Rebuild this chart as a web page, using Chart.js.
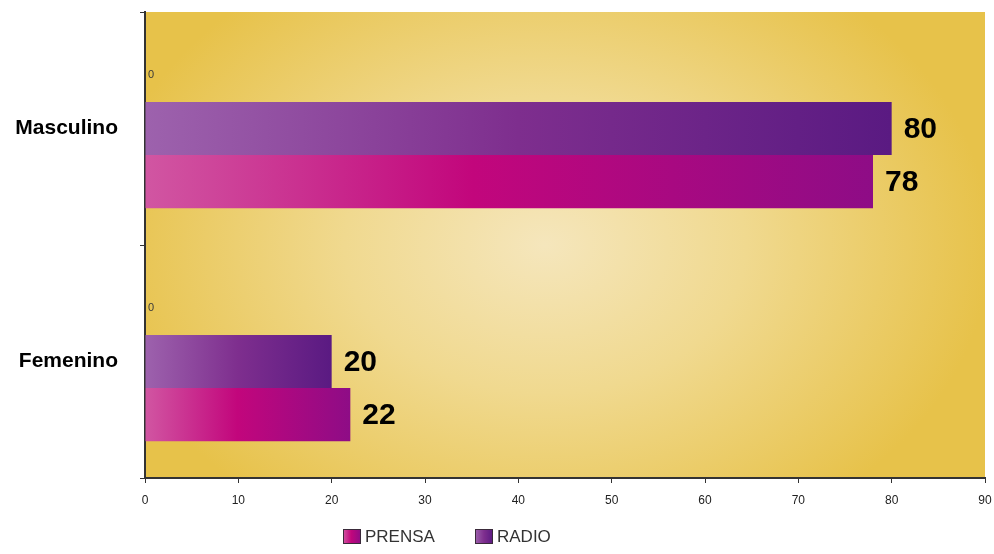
<!DOCTYPE html>
<html lang="es">
<head>
<meta charset="UTF-8">
<title>Prensa y radio por sexo</title>
<script src="https://cdn.jsdelivr.net/npm/chart.js"></script>
<style>
  body { margin: 0; background: #fff; }
  #wrap { width: 994px; height: 554px; }
</style>
</head>
<body>
<div id="wrap"><canvas id="chart"></canvas></div>
<script>
// data
const categorias = ['Masculino', 'Femenino'];
const vacio = [0, 0];
const radio = [80, 20];
const prensa = [78, 22];
const xTicks = [0, 10, 20, 30, 40, 50, 60, 70, 80, 90];

const FONT = "'Liberation Sans', Arial, sans-serif";

// gradient per bar, from the axis to the bar end
function barGradient(stops) {
    return function (ctx) {
        const chart = ctx.chart;
        const area = chart.chartArea;
        if (!area || ctx.type !== 'data') return stops[1][1];
        const v = ctx.raw;
        const x0 = chart.scales.x.getPixelForValue(0);
        const x1 = Math.max(chart.scales.x.getPixelForValue(v), x0 + 1);
        const g = chart.ctx.createLinearGradient(x0, 0, x1, 0);
        stops.forEach(s => g.addColorStop(s[0], s[1]));
        return g;
    };
}
const radioStops = [[0, '#9d62ad'], [0.5, '#7e2e8e'], [1, '#5a1a82']];
const prensaStops = [[0, '#d156a2'], [0.45, '#c2067c'], [1, '#8e0c86']];

// radial golden background of the plot area
const fondo = {
    id: 'fondo',
    beforeDraw(chart) {
        const { ctx, chartArea: a } = chart;
        const cx = (a.left + a.right) / 2 - 20, cy = (a.top + a.bottom) / 2;
        ctx.save();
        ctx.beginPath();
        ctx.rect(a.left, a.top, a.right - a.left, a.bottom - a.top);
        ctx.clip();
        ctx.translate(cx, cy);
        ctx.scale(1.35, 1);
        const g = ctx.createRadialGradient(0, 0, 0, 0, 0, 330);
        g.addColorStop(0, '#f5e6bc');
        g.addColorStop(0.45, '#f0d98f');
        g.addColorStop(1, '#e7c24a');
        ctx.fillStyle = g;
        ctx.fillRect(-1000, -1000, 2000, 2000);
        ctx.restore();
    }
};

// value labels at the end of each bar
const etiquetas = {
    id: 'etiquetas',
    afterDatasetsDraw(chart) {
        const ctx = chart.ctx;
        ctx.save();
        ctx.textBaseline = 'middle';
        ctx.textAlign = 'left';
        chart.data.datasets.forEach((ds, i) => {
            chart.getDatasetMeta(i).data.forEach((bar, j) => {
                const v = ds.data[j];
                if (i === 0) {
                    ctx.font = '11px ' + FONT;
                    ctx.fillStyle = '#3a3a3a';
                    ctx.fillText(String(v), bar.x + 3, bar.y);
                } else {
                    ctx.font = 'bold 30px ' + FONT;
                    ctx.fillStyle = '#000';
                    ctx.fillText(String(v), bar.x + 12, bar.y + 1);
                }
            });
        });
        ctx.restore();
    }
};

// legend with gradient boxes
const leyenda = {
    id: 'leyenda',
    afterDraw(chart) {
        const ctx = chart.ctx;
        const items = [
            { text: 'PRENSA', stops: prensaStops, x: 343 },
            { text: 'RADIO', stops: radioStops, x: 475 }
        ];
        ctx.save();
        items.forEach(it => {
            const y = 529;
            const g = ctx.createLinearGradient(it.x, 0, it.x + 18, 0);
            it.stops.forEach(s => g.addColorStop(s[0], s[1]));
            ctx.fillStyle = g;
            ctx.fillRect(it.x, y, 18, 15);
            ctx.strokeStyle = '#3a2a3a';
            ctx.lineWidth = 1;
            ctx.strokeRect(it.x + 0.5, y + 0.5, 17, 14);
            ctx.font = '17px ' + FONT;
            ctx.fillStyle = '#333';
            ctx.textBaseline = 'middle';
            ctx.fillText(it.text, it.x + 22, y + 8);
        });
        ctx.restore();
    }
};

new Chart(document.getElementById('chart'), {
    type: 'bar',
    data: {
        labels: categorias,
        datasets: [
            { label: '0', data: vacio, backgroundColor: 'rgba(0,0,0,0)' },
            { label: 'RADIO', data: radio, backgroundColor: barGradient(radioStops) },
            { label: 'PRENSA', data: prensa, backgroundColor: barGradient(prensaStops) }
        ]
    },
    options: {
        indexAxis: 'y',
        responsive: true,
        maintainAspectRatio: false,
        animation: false,
        categoryPercentage: 0.685,
        barPercentage: 1,
        layout: { padding: { top: 12, right: 9, bottom: 36, left: 0 } },
        plugins: {
            legend: { display: false },
            tooltip: { enabled: false }
        },
        scales: {
            x: {
                min: 0,
                max: 90,
                afterBuildTicks: s => { s.ticks = xTicks.map(v => ({ value: v })); },
                afterFit: s => { s.height = 40; s.paddingLeft = 0; s.paddingRight = 0; },
                border: { color: '#333', width: 2 },
                grid: { drawOnChartArea: false, tickLength: 5, color: '#333' },
                ticks: { color: '#222', font: { family: FONT, size: 12 }, padding: 10 }
            },
            y: {
                afterFit: s => { s.width = 145; s.paddingTop = 0; s.paddingBottom = 0; },
                border: { color: '#333', width: 2 },
                grid: { drawOnChartArea: false, tickLength: 5, color: '#333' },
                ticks: { color: '#000', font: { family: FONT, size: 21, weight: 'bold' }, padding: 22 }
            }
        }
    },
    plugins: [fondo, etiquetas, leyenda]
});
</script>
</body>
</html>
